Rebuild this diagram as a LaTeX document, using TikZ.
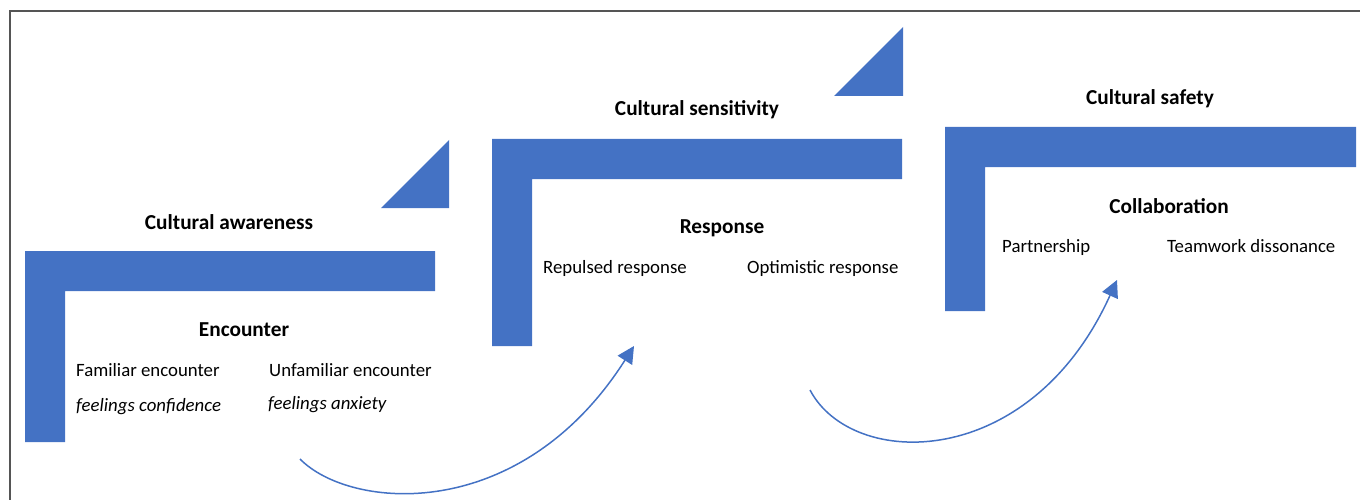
\documentclass[tikz,border=0pt]{standalone}
\usepackage{fontspec}
\setmainfont{Carlito}
\usetikzlibrary{arrows.meta}
\definecolor{barblue}{HTML}{4472C4}
\definecolor{framegray}{HTML}{555555}
\begin{document}
\begin{tikzpicture}[x=1pt,y=-1pt,
  bar/.style={fill=barblue,draw=none},
  heading/.style={anchor=base,font=\fontsize{21.3}{24}\selectfont\bfseries,inner sep=0pt},
  item/.style={anchor=base west,font=\fontsize{18.8}{22}\selectfont,inner sep=0pt},
  feeling/.style={item,font=\fontsize{18.8}{22}\selectfont\itshape},
  flow/.style={draw=barblue,line width=1.5pt,-{Triangle[length=17pt,width=17pt]}}]
\useasboundingbox (0,0) rectangle (1360,500);
% frame
\draw[framegray,line width=1.2pt] (10,500) -- (10,11) -- (1360,11);

% stage 1: cultural awareness
\path[bar] (25,251) -| (435,291) -| (65,442) -| cycle;
\path[bar] (381,208) -- (449,208) -- (449,140) -- cycle;
\node[heading] (aware) at (229,229) {Cultural awareness};
\node[heading] (enc) at (244,336) {Encounter};
\node[item] (fam) at (76,376) {Familiar encounter};
\node[item] (unfam) at (269,376) {Unfamiliar encounter};
\node[feeling] (conf) at (76,411) {feelings confidence};
\node[feeling] (anx) at (268,409) {feelings anxiety};

% stage 2: cultural sensitivity
\path[bar] (492,139) -| (902,179) -| (532,346) -| cycle;
\path[bar] (834,96) -- (903,96) -- (903,27) -- cycle;
\node[heading] (sens) at (697,116) {Cultural sensitivity};
\node[heading] (resp) at (722,233) {Response};
\node[item] (rep) at (543,273) {Repulsed response};
\node[item] (opt) at (747,273) {Optimistic response};

% stage 3: cultural safety
\path[bar] (945,127) -| (1356,167) -| (985,311) -| cycle;
\node[heading] (safe) at (1150,105) {Cultural safety};
\node[heading] (coll) at (1169,213) {Collaboration};
\node[item] (part) at (1002,252) {Partnership};
\node[item] (team) at (1167,252) {Teamwork dissonance};

% transitions between stages
\coordinate (s1) at (300,459);
\coordinate (e1) at (634,346);
\coordinate (s2) at (810,390);
\coordinate (e2) at (1117,280);
\draw[flow] (s1) .. controls (350,510) and (520,525) .. (e1);
\draw[flow] (s2) .. controls (852,470) and (1030,472) .. (e2);
\end{tikzpicture}
\end{document}
